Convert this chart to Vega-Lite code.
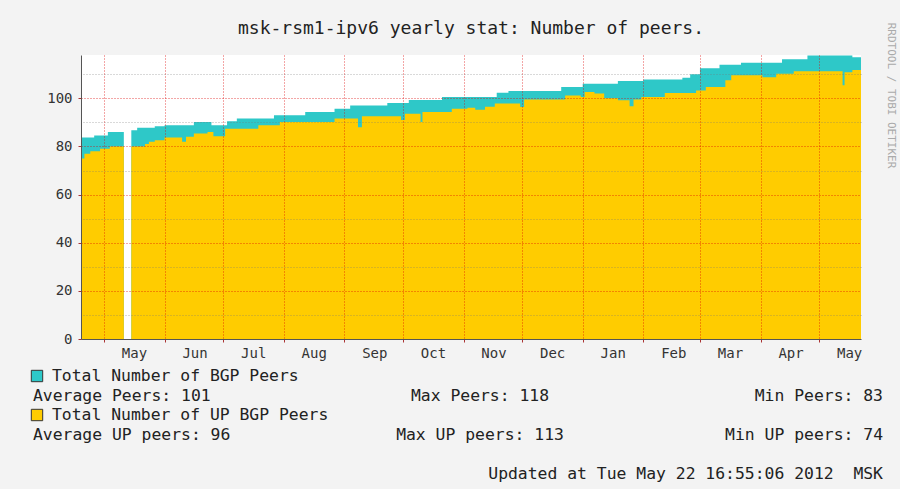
{
  "$schema": "https://vega.github.io/schema/vega-lite/v6.json",
  "autosize": {"type": "none"},
  "width": 780,
  "height": 284,
  "padding": {"left": 81, "top": 55, "right": 39, "bottom": 150},
  "background": "#f3f3f3",
  "config": {"view": {"fill": "#ffffff", "stroke": null}},
  "title": {
    "text": "msk-rsm1-ipv6 yearly stat: Number of peers.",
    "font": "DejaVu Sans Mono",
    "fontSize": 18,
    "fontWeight": "normal",
    "color": "#222222",
    "anchor": "middle",
    "frame": "group",
    "offset": 14,
    "dy": 30
  },
  "datasets": {
    "total": [
      {"date": "2011-04-19T06:00", "peers": 83.7},
      {"date": "2011-04-26T00:00", "peers": 84.6},
      {"date": "2011-05-03T00:00", "peers": 86},
      {"date": "2011-05-11T04:00", "peers": 86},
      {"date": "2011-05-11T05:00", "peers": null},
      {"date": "2011-05-15T00:00", "peers": 86.7},
      {"date": "2011-05-18T00:00", "peers": 87.8},
      {"date": "2011-05-27T00:00", "peers": 88.4},
      {"date": "2011-06-01T00:00", "peers": 88.8},
      {"date": "2011-06-16T00:00", "peers": 90.2},
      {"date": "2011-06-25T00:00", "peers": 88.8},
      {"date": "2011-07-03T00:00", "peers": 90.5},
      {"date": "2011-07-08T00:00", "peers": 91.6},
      {"date": "2011-07-27T00:00", "peers": 93},
      {"date": "2011-08-12T00:00", "peers": 94.3},
      {"date": "2011-08-27T00:00", "peers": 95.7},
      {"date": "2011-09-04T00:00", "peers": 97},
      {"date": "2011-09-23T00:00", "peers": 98.1},
      {"date": "2011-10-04T00:00", "peers": 99.3},
      {"date": "2011-10-21T00:00", "peers": 100.5},
      {"date": "2011-11-18T00:00", "peers": 102.3},
      {"date": "2011-11-24T00:00", "peers": 103},
      {"date": "2011-12-21T00:00", "peers": 104.7},
      {"date": "2012-01-01T00:00", "peers": 106.1},
      {"date": "2012-01-19T00:00", "peers": 107.2},
      {"date": "2012-02-01T00:00", "peers": 107.8},
      {"date": "2012-02-21T00:00", "peers": 108.5},
      {"date": "2012-02-25T00:00", "peers": 110},
      {"date": "2012-03-01T00:00", "peers": 112.5},
      {"date": "2012-03-11T00:00", "peers": 114},
      {"date": "2012-03-22T00:00", "peers": 114.8},
      {"date": "2012-04-12T00:00", "peers": 116.2},
      {"date": "2012-04-25T00:00", "peers": 117.8},
      {"date": "2012-05-18T00:00", "peers": 117.1},
      {"date": "2012-05-22T10:00", "peers": 117.1}
    ],
    "up": [
      {"date": "2011-04-19T06:00", "peers": 75},
      {"date": "2011-04-21T00:00", "peers": 77},
      {"date": "2011-04-24T00:00", "peers": 78},
      {"date": "2011-04-29T00:00", "peers": 79},
      {"date": "2011-05-04T00:00", "peers": 80},
      {"date": "2011-05-11T04:00", "peers": 80},
      {"date": "2011-05-11T05:00", "peers": null},
      {"date": "2011-05-15T00:00", "peers": 80},
      {"date": "2011-05-22T00:00", "peers": 81},
      {"date": "2011-05-24T00:00", "peers": 82},
      {"date": "2011-05-27T00:00", "peers": 82.6},
      {"date": "2011-06-01T00:00", "peers": 83.7},
      {"date": "2011-06-10T00:00", "peers": 82},
      {"date": "2011-06-12T00:00", "peers": 84},
      {"date": "2011-06-16T00:00", "peers": 85.4},
      {"date": "2011-06-23T00:00", "peers": 86},
      {"date": "2011-06-26T00:00", "peers": 84.2},
      {"date": "2011-07-02T00:00", "peers": 87.4},
      {"date": "2011-07-19T00:00", "peers": 88.8},
      {"date": "2011-07-30T00:00", "peers": 90.2},
      {"date": "2011-08-27T00:00", "peers": 91.6},
      {"date": "2011-09-08T00:00", "peers": 88},
      {"date": "2011-09-10T00:00", "peers": 92.5},
      {"date": "2011-09-30T00:00", "peers": 91},
      {"date": "2011-10-02T00:00", "peers": 93.6},
      {"date": "2011-10-10T00:00", "peers": 90.2},
      {"date": "2011-10-11T00:00", "peers": 94.3},
      {"date": "2011-10-26T00:00", "peers": 95.7},
      {"date": "2011-11-03T00:00", "peers": 96.1},
      {"date": "2011-11-07T00:00", "peers": 95.3},
      {"date": "2011-11-12T00:00", "peers": 96.5},
      {"date": "2011-11-17T00:00", "peers": 97.8},
      {"date": "2011-11-30T00:00", "peers": 96.4},
      {"date": "2011-12-02T00:00", "peers": 99.5},
      {"date": "2011-12-23T00:00", "peers": 101.2},
      {"date": "2011-12-31T00:00", "peers": 100.5},
      {"date": "2012-01-02T00:00", "peers": 102.6},
      {"date": "2012-01-07T00:00", "peers": 102},
      {"date": "2012-01-12T00:00", "peers": 100},
      {"date": "2012-01-19T00:00", "peers": 99.2},
      {"date": "2012-01-25T00:00", "peers": 96.7},
      {"date": "2012-01-27T00:00", "peers": 99.5},
      {"date": "2012-01-31T00:00", "peers": 100.5},
      {"date": "2012-02-12T00:00", "peers": 102.2},
      {"date": "2012-02-28T00:00", "peers": 103.3},
      {"date": "2012-03-04T00:00", "peers": 104.7},
      {"date": "2012-03-14T00:00", "peers": 107.5},
      {"date": "2012-03-17T00:00", "peers": 109.6},
      {"date": "2012-04-02T00:00", "peers": 108.8},
      {"date": "2012-04-09T00:00", "peers": 110.2},
      {"date": "2012-04-18T00:00", "peers": 111.3},
      {"date": "2012-05-13T00:00", "peers": 105.4},
      {"date": "2012-05-14T00:00", "peers": 110.8},
      {"date": "2012-05-18T00:00", "peers": 111.8},
      {"date": "2012-05-22T10:00", "peers": 111.8}
    ],
    "legend": [
      {"row": 1, "col": "left", "kind": "key", "series": "total", "text": "Total Number of BGP Peers"},
      {"row": 2, "col": "left", "kind": "stat", "text": "Average Peers: 101"},
      {"row": 2, "col": "mid", "kind": "stat", "text": "Max Peers: 118"},
      {"row": 2, "col": "right", "kind": "stat", "text": "Min Peers: 83"},
      {"row": 3, "col": "left", "kind": "key", "series": "up", "text": "Total Number of UP BGP Peers"},
      {"row": 4, "col": "left", "kind": "stat", "text": "Average UP peers: 96"},
      {"row": 4, "col": "mid", "kind": "stat", "text": "Max UP peers: 113"},
      {"row": 4, "col": "right", "kind": "stat", "text": "Min UP peers: 74"},
      {"row": 6, "col": "right", "kind": "stat", "text": "Updated at Tue May 22 16:55:06 2012\u00a0 MSK"}
    ]
  },
  "layer": [
    {
      "layer": [
        {
          "data": {"name": "total"},
          "mark": {"type": "area", "interpolate": "step-after", "color": "#2ec8c8", "invalid": "break-paths-filter-domains"},
          "encoding": {
            "x": {
              "field": "date", "type": "temporal",
              "scale": {"domain": [{"year": 2011, "month": 4, "date": 19, "hours": 6}, {"year": 2012, "month": 5, "date": 22, "hours": 10}]},
              "axis": {
                "title": null,
                "tickCount": {"interval": "month", "step": 1},
                "format": "%b",
                "labelOffset": 30,
                "labelAlign": "center",
                "labelFlush": false,
                "labelOverlap": false,
                "labelBound": false,
                "labelFont": "DejaVu Sans Mono",
                "labelFontSize": 14,
                "labelColor": "#333333",
                "labelPadding": 4,
                "tickSize": 3,
                "tickColor": "#aa3333",
                "domainColor": "#555555",
                "grid": true,
                "gridColor": "#dd0000",
                "gridOpacity": 0.7,
                "gridDash": [1, 2],
                "zindex": 1
              }
            },
            "y": {
              "field": "peers", "type": "quantitative",
              "scale": {"domain": [0, 118], "nice": false, "zero": true},
              "axis": {
                "title": null,
                "values": [0, 20, 40, 60, 80, 100],
                "labelFont": "DejaVu Sans Mono",
                "labelFontSize": 14,
                "labelColor": "#333333",
                "labelPadding": 6,
                "tickSize": 3,
                "tickColor": "#aa3333",
                "domainColor": "#555555",
                "grid": true,
                "gridColor": "#dd0000",
                "gridOpacity": 0.7,
                "gridDash": [1, 2],
                "zindex": 1
              }
            }
          }
        },
        {
          "data": {"name": "up"},
          "mark": {"type": "area", "interpolate": "step-after", "color": "#ffcc00", "invalid": "break-paths-filter-domains"},
          "encoding": {
            "x": {"field": "date", "type": "temporal"},
            "y": {
              "field": "peers", "type": "quantitative",
              "scale": {"domain": [0, 118], "nice": false, "zero": true},
              "axis": {
                "orient": "right",
                "values": [10, 30, 50, 70, 90, 110],
                "labels": false,
                "ticks": false,
                "domain": false,
                "grid": true,
                "gridColor": "#777777",
                "gridOpacity": 0.55,
                "gridDash": [1, 2],
                "title": "RRDTOOL / TOBI OETIKER",
                "titleAngle": 90,
                "titleFont": "DejaVu Sans Mono",
                "titleFontSize": 11,
                "titleFontWeight": "normal",
                "titleColor": "#aaaaaa",
                "titleX": 29,
                "titleY": 40,
                "titleAlign": "center",
                "titleBaseline": "middle",
                "zindex": 1
              }
            }
          }
        }
      ],
      "resolve": {"scale": {"y": "independent"}}
    },
    {
      "data": {"name": "legend"},
      "encoding": {
        "x": {"field": "col", "type": "nominal", "scale": {"type": "point", "domain": ["left", "mid", "right"], "range": [-48, 802], "padding": 0}, "axis": null},
        "y": {"field": "row", "type": "quantitative", "scale": {"domain": [1, 6], "range": [321, 418.5], "zero": false, "nice": false}, "axis": null}
      },
      "layer": [
        {
          "transform": [{"filter": "datum.kind == 'key'"}],
          "mark": {"type": "point", "shape": "square", "size": 130, "filled": true, "stroke": "#333333", "strokeWidth": 1, "opacity": 1, "xOffset": 4},
          "encoding": {
            "color": {"field": "series", "type": "nominal", "scale": {"domain": ["total", "up"], "range": ["#2ec8c8", "#ffcc00"]}, "legend": null}
          }
        },
        {
          "transform": [{"filter": "datum.kind == 'key'"}],
          "mark": {"type": "text", "align": "left", "baseline": "middle", "dx": 19, "font": "DejaVu Sans Mono", "fontSize": 16.4, "color": "#222222"},
          "encoding": {"text": {"field": "text"}}
        },
        {
          "transform": [{"filter": "datum.kind == 'stat' && datum.col == 'left'"}],
          "mark": {"type": "text", "align": "left", "baseline": "middle", "font": "DejaVu Sans Mono", "fontSize": 16.4, "color": "#222222"},
          "encoding": {"text": {"field": "text"}}
        },
        {
          "transform": [{"filter": "datum.kind == 'stat' && datum.col == 'mid'"}],
          "mark": {"type": "text", "align": "center", "baseline": "middle", "dx": 22, "font": "DejaVu Sans Mono", "fontSize": 16.4, "color": "#222222"},
          "encoding": {"text": {"field": "text"}}
        },
        {
          "transform": [{"filter": "datum.kind == 'stat' && datum.col == 'right'"}],
          "mark": {"type": "text", "align": "right", "baseline": "middle", "font": "DejaVu Sans Mono", "fontSize": 16.4, "color": "#222222"},
          "encoding": {"text": {"field": "text"}}
        }
      ]
    }
  ],
  "resolve": {"scale": {"x": "independent", "y": "independent"}}
}
